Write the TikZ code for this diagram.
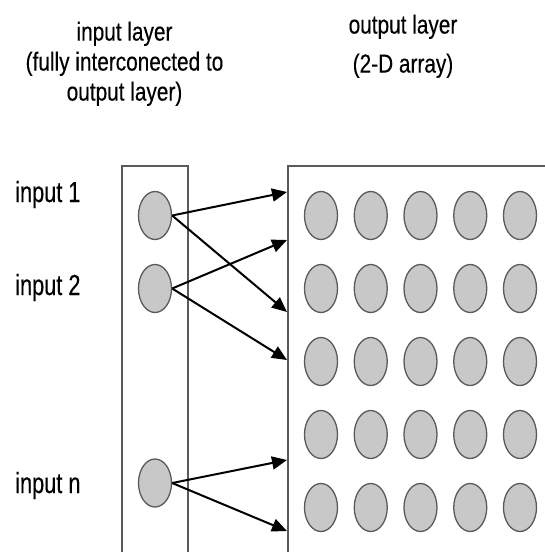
\documentclass[tikz,border=0pt]{standalone}
\usepackage{fontspec}
\setmainfont{Liberation Sans}
\newfontfamily\hdfont{Liberation Sans}[FakeStretch=0.8,FakeBold=0.3]
\newfontfamily\lbfont{Liberation Sans}[FakeStretch=0.75,FakeBold=0.3]
\usetikzlibrary{arrows.meta,shapes.geometric}
\definecolor{cfill}{RGB}{200,200,200}
\definecolor{cline}{RGB}{90,90,90}
\begin{document}
\begin{tikzpicture}[x=1pt,y=-1pt,
  unit/.style={ellipse,draw=cline,fill=cfill,line width=1.3pt,minimum width=33pt,minimum height=48pt,inner sep=0pt},
  frame/.style={draw=cline,line width=1.2pt},
  link/.style={draw=black,line width=2pt,-{Triangle[length=15pt,width=13pt]}},
  header/.style={align=center,inner sep=0pt,anchor=north},
  lab/.style={font=\lbfont\fontsize{29}{33}\selectfont,inner sep=0pt,anchor=base west}]
\useasboundingbox (0,0) rectangle (545,552);
\fill[white] (0,0) rectangle (545,552);

% frames
\draw[frame] (122,560) -- (122,166) -- (188,166) -- (188,560);
\draw[frame] (288,560) -- (288,166) -- (560,166);

% headers
\node[header,font=\hdfont\fontsize{26}{30}\selectfont] (hin) at (124.5,21.5)
  {input layer\\(fully interconected to\\output layer)};
\node[header,font=\hdfont\fontsize{26}{39}\selectfont] (hout) at (403,14.5)
  {output layer\\(2-D array)};

% labels
\node[lab] (l1) at (15,202) {input 1};
\node[lab] (l2) at (15,295) {input 2};
\node[lab] (ln) at (15,493) {input n};

% input units
\node[unit] (i1) at (155,215.5) {};
\node[unit] (i2) at (155,288.5) {};
\node[unit] (in) at (155,483) {};

% output units
\foreach \c/\x in {1/321,2/370.75,3/420.5,4/470.25,5/520}{
  \foreach \r/\y in {1/215.5,2/288.5,3/361.5,4/434.5,5/507.5}{
    \node[unit] (o\r\c) at (\x,\y) {};
  }
}

% arrow targets on the output frame
\coordinate (t1) at (287,192);
\coordinate (t2) at (287,240);
\coordinate (t3) at (287,312);
\coordinate (t4) at (287,360);
\coordinate (t5) at (287,460);
\coordinate (t6) at (287,531);

\draw[link] (i1.east) -- (t1);
\draw[link] (i1.east) -- (t3);
\draw[link] (i2.east) -- (t2);
\draw[link] (i2.east) -- (t4);
\draw[link] (in.east) -- (t5);
\draw[link] (in.east) -- (t6);
\end{tikzpicture}
\end{document}
